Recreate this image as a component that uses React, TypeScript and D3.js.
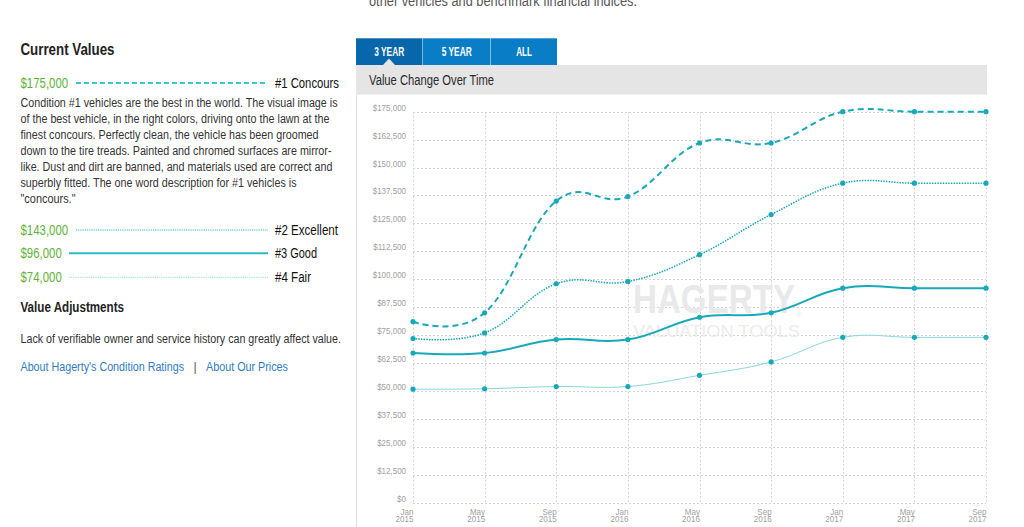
import React from "react";
import * as d3 from "d3";

const months = ["Jan|2015", "May|2015", "Sep|2015", "Jan|2016", "May|2016", "Sep|2016", "Jan|2017", "May|2017", "Sep|2017"];
const concours = [81000, 85000, 135000, 137000, 161000, 161000, 175000, 175000, 175000];
const excellent = [73500, 76000, 98000, 99000, 111000, 129000, 143000, 143000, 143000];
const good = [67000, 67000, 73000, 73000, 83000, 85000, 96000, 96000, 96000];
const fair = [50800, 51000, 52000, 52000, 57000, 63000, 74000, 74000, 74000];
const yTicks = [0, 12500, 25000, 37500, 50000, 62500, 75000, 87500, 100000, 112500, 125000, 137500, 150000, 162500, 175000];

const currentValues = ["$175,000", "$143,000", "$96,000", "$74,000"];
const conditionNames = ["#1 Concours", "#2 Excellent", "#3 Good", "#4 Fair"];
const tabs = ["3 YEAR", "5 YEAR", "ALL"];
const bodyLines = [
  "Condition #1 vehicles are the best in the world. The visual image is",
  "of the best vehicle, in the right colors, driving onto the lawn at the",
  "finest concours. Perfectly clean, the vehicle has been groomed",
  "down to the tire treads. Painted and chromed surfaces are mirror-",
  "like. Dust and dirt are banned, and materials used are correct and",
  "superbly fitted. The one word description for #1 vehicles is",
  "\"concours.\"",
];
const bodyWidths = [317, 309, 298, 311, 312, 276, 55];

const FONT = "'Liberation Sans', Arial, Helvetica, sans-serif";
const TEAL = "#17a9ba";

type TProps = { x: number; y: number; w?: number; size: number; weight?: string | number; fill: string; anchor?: "start" | "middle" | "end"; children: React.ReactNode };
const T = ({ x, y, w, size, weight, fill, anchor, children }: TProps) => (
  <text x={x} y={y} fontSize={size} fontWeight={weight ?? "normal"} fill={fill} textAnchor={anchor ?? "start"} fontFamily={FONT}
    {...(w ? { textLength: w, lengthAdjust: "spacingAndGlyphs" } : {})}>{children}</text>
);

export default function App() {
  const x = d3.scalePoint<string>().domain(months).range([413, 986]);
  const y = d3.scaleLinear().domain([0, 175000]).range([502.7, 111.7]);
  const line = d3.line<number>().x((_, i) => x(months[i]) as number).y((d) => y(d)).curve(d3.curveCardinal.tension(-0.2));

  const series = [
    { data: concours, stroke: TEAL, width: 2, dash: "6,4" },
    { data: excellent, stroke: TEAL, width: 1.5, dash: "1.5,1.2" },
    { data: good, stroke: TEAL, width: 2, dash: undefined },
    { data: fair, stroke: "#8ad6df", width: 1, dash: undefined },
  ];

  const legendRows = [
    { y: 83, base: 88, vw: 47.6, nw: 64, lx: 76, stroke: "#3cc3d2", width: 2, dash: "5,3" },
    { y: 230, base: 235, vw: 47.6, nw: 63, lx: 76, stroke: "#2fb8c8", width: 1.2, dash: "1.2,1" },
    { y: 253.3, base: 258.3, vw: 41.3, nw: 42, lx: 69, stroke: "#2fb8c8", width: 2, dash: undefined },
    { y: 277.3, base: 282.3, vw: 41.3, nw: 36, lx: 69, stroke: "#a8e1e8", width: 1.2, dash: "1.2,1" },
  ];

  const tabX = [356, 423, 491];
  const tabW = [66.5, 67.5, 66];

  return (
    <div>
      <svg width={1024} height={527} style={{ position: "absolute", left: 0, top: 0, background: "#fff" }}>
        {/* top cut-off text */}
        <T x={369} y={6} w={268} size={14} fill="#555">other vehicles and benchmark financial indices.</T>

        {/* Left panel */}
        <T x={20.5} y={55} w={94} size={16} weight="bold" fill="#222">Current Values</T>
        {legendRows.map((r, i) => (
          <g key={i}>
            <T x={20.5} y={r.base} w={r.vw} size={14} fill="#5fb336">{currentValues[i]}</T>
            <line x1={r.lx} x2={268} y1={r.y} y2={r.y} stroke={r.stroke} strokeWidth={r.width} strokeDasharray={r.dash} />
            <T x={275} y={r.base} w={r.nw} size={14} fill="#111" >{conditionNames[i]}</T>
          </g>
        ))}
        {bodyLines.map((l, i) => (
          <T key={i} x={20.5} y={106.5 + i * 16.1} w={bodyWidths[i]} size={12} fill="#333">{l}</T>
        ))}
        <T x={20.5} y={312.3} w={103.5} size={14} weight="bold" fill="#222">Value Adjustments</T>
        <T x={20.5} y={342.7} w={320.5} size={12} fill="#333">Lack of verifiable owner and service history can greatly affect value.</T>
        <T x={20.5} y={370.5} w={163.5} size={12} fill="#2f7dc0">About Hagerty's Condition Ratings</T>
        <T x={195} y={370.5} size={12} fill="#555" anchor="middle">|</T>
        <T x={206} y={370.5} w={82} size={12} fill="#2f7dc0">About Our Prices</T>

        {/* Tabs */}
        {tabs.map((t, i) => (
          <g key={t}>
            <rect x={tabX[i]} y={38.3} width={tabW[i]} height={26.7} fill={i === 0 ? "#0866aa" : "#0a7dc7"} />
            <T x={tabX[i] + tabW[i] / 2} y={56} w={i === 2 ? 15.7 : 30} size={12} weight="bold" fill="#fff" anchor="middle">{t}</T>
          </g>
        ))}
        <rect x={356} y={65} width={631} height={29.5} fill="#e5e5e5" />
        <path d="M383,65 L389,58.5 L395,65 Z" fill="#e5e5e5" />
        <T x={369} y={85} w={125} size={14} fill="#2a2a2a">Value Change Over Time</T>
        <line x1={356.5} x2={356.5} y1={94.5} y2={527} stroke="#e2e2e2" strokeWidth={1} />

        {/* Grid */}
        <g stroke="#d4d4d4" strokeWidth={1} strokeDasharray="2,2">
          {yTicks.map((t) => (
            <line key={t} x1={413} x2={986} y1={Math.round(y(t)) + 0.5} y2={Math.round(y(t)) + 0.5} />
          ))}
          {months.map((m) => (
            <line key={m} x1={Math.round(x(m) as number) + 0.5} x2={Math.round(x(m) as number) + 0.5} y1={111.7} y2={502.7} />
          ))}
        </g>
        {yTicks.map((t) => (
          <text key={t} transform={`translate(406,${y(t) - 1}) scale(0.84,1)`} textAnchor="end" fontSize={9.5} fill="#a0a0a0" fontFamily={FONT}>
            {d3.format("$,")(t)}
          </text>
        ))}
        {months.map((m) => {
          const [mo, yr] = m.split("|");
          const xx = (x(m) as number) + 0.5;
          return (
            <g key={m} fontSize={9.5} fill="#a0a0a0" fontFamily={FONT} textAnchor="end">
              <text transform={`translate(${xx},514.5) scale(0.85,1)`}>{mo}</text>
              <text transform={`translate(${xx},522) scale(0.85,1)`}>{yr}</text>
            </g>
          );
        })}

        {/* Watermark */}
        <T x={633} y={313} w={162} size={40} weight="bold" fill="#e9e9e9">HAGERTY</T>
        <T x={796} y={317} size={8} fill="#e9e9e9">®</T>
        <T x={633} y={337} w={167} size={17} weight={300} fill="#ececec">VALUATION TOOLS</T>

        {/* Series */}
        {series.map((s, i) => (
          <g key={i}>
            <path d={line(s.data) ?? ""} fill="none" stroke={s.stroke} strokeWidth={s.width} strokeDasharray={s.dash} />
            {s.data.map((v, j) => (
              <circle key={j} cx={x(months[j]) as number} cy={y(v)} r={2.6} fill={TEAL} />
            ))}
          </g>
        ))}
      </svg>
    </div>
  );
}
